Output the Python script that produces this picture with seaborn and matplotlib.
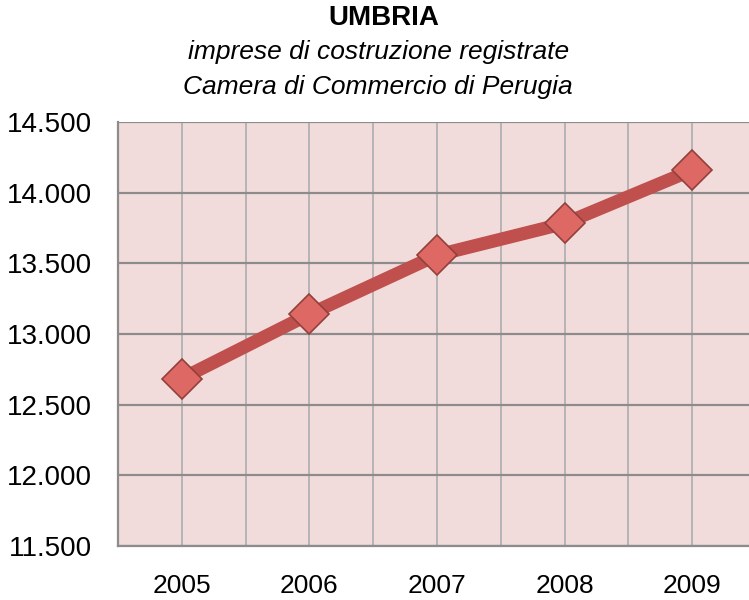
#!/usr/bin/env python3

import numpy as np
import pandas as pd
import seaborn as sns
import matplotlib.pyplot as plt
from matplotlib.ticker import FuncFormatter, MultipleLocator

# Imprese di costruzione registrate, Umbria
anni = ['2005', '2006', '2007', '2008', '2009']
imprese = [12685, 13140, 13558, 13783, 14160]

data = pd.DataFrame({'anno': anni, 'imprese': imprese})

sns.set_style('white')
plt.rcParams['font.family'] = ['Liberation Sans', 'DejaVu Sans']
plt.rcParams['text.color'] = 'black'

fig = plt.figure(figsize=(7.49, 6.0), dpi=100)
# plot area runs a little past the right edge, like the original crop
ax = fig.add_axes([0.1575, 0.09, 0.852, 0.7067])
ax.set_facecolor('#f2dcdb')

sns.lineplot(data=data, x='anno', y='imprese', ax=ax, color='#c0504d',
             linewidth=9.5, marker='D', markersize=20,
             markerfacecolor='#de6864', markeredgecolor='#93403d',
             markeredgewidth=1.2, zorder=5)

ax.set_xlim(-0.5, 4.5)
ax.set_ylim(11500, 14500)
ax.yaxis.set_major_locator(MultipleLocator(500))
ax.yaxis.set_major_formatter(FuncFormatter(lambda v, p: f'{int(v):,}'.replace(',', '.')))
ax.xaxis.set_minor_locator(MultipleLocator(0.5))

ax.grid(axis='y', which='major', color='#8c8c8c', linewidth=1.6)
ax.grid(axis='x', which='both', color='#b4b4b4', linewidth=1.4)
ax.set_axisbelow(True)

for s in ['left', 'bottom']:
    ax.spines[s].set_color('#8c8c8c')
    ax.spines[s].set_linewidth(1.6)
ax.spines['top'].set_visible(False)
ax.spines['right'].set_visible(False)

ax.tick_params(axis='both', which='both', length=0, labelsize=20, colors='black')
ax.tick_params(axis='y', pad=19)
ax.tick_params(axis='x', pad=20, labelsize=19)
ax.set_xlabel('')
ax.set_ylabel('')

fig.text(0.512, 0.97, 'UMBRIA', ha='center', va='center',
         fontsize=20, fontweight='bold')
fig.text(0.505, 0.913, 'imprese di costruzione registrate', ha='center',
         va='center', fontsize=19, style='italic')
fig.text(0.505, 0.855, 'Camera di Commercio di Perugia', ha='center',
         va='center', fontsize=19, style='italic')

fig.savefig('out.png', dpi=100)
